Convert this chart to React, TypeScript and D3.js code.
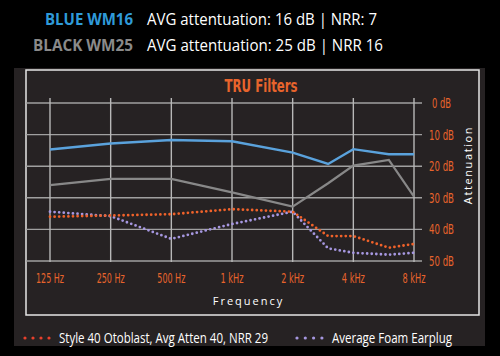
import React from "react";
import * as d3 from "d3";

const freqs = [125, 250, 500, 1000, 2000, 3000, 4000, 6000, 8000];
const blueWM16 = [14.7, 12.8, 11.7, 12.1, 15.7, 19.3, 14.6, 16.2, 16.2];
const blackWM25 = [26, 24, 24, 28.3, 32.8, 25.4, 19.8, 18, 29.6];
const otoblast = [36, 35.6, 35.2, 33.6, 34.4, 42.1, 42.1, 45.8, 44.6];
const foam = [34.4, 35.8, 43, 38.3, 34.4, 46, 47.4, 48, 47.4];

const xTicks = [125, 250, 500, 1000, 2000, 4000, 8000];
const xTickLabels = ["125 Hz", "250 Hz", "500 Hz", "1 kHz", "2 kHz", "4 kHz", "8 kHz"];
const yTicks = [0, 10, 20, 30, 40, 50];
const yTickLabels = ["0 dB", "10 dB", "20 dB", "30 dB", "40 dB", "50 dB"];

const COND = "'Liberation Sans Narrow', 'DejaVu Sans Condensed', 'Roboto', sans-serif";
const SANS = "'Open Sans', 'Noto Sans', 'Lato', sans-serif";
const ORANGE = "#e8642c";

export default function App() {
  const x = d3.scaleLog().base(2).domain([125, 8000]).range([50, 414]);
  const y = d3.scaleLinear().domain([0, 50]).range([103, 261]);
  const line = d3
    .line<number>()
    .x((_, i) => x(freqs[i]))
    .y((d) => y(d));

  return (
    <svg
      width={500}
      height={356}
      style={{ position: "absolute", left: 0, top: 0, background: "#000" }}
    >
      <rect x={0} y={0} width={500} height={356} fill="#000" />
      {/* header */}
      <text x={133} y={25} textAnchor="end" fill="#2f9ad9" fontFamily={SANS} fontWeight={700} fontSize={16.5} textLength={88} lengthAdjust="spacingAndGlyphs">BLUE WM16</text>
      <text x={147} y={25} fill="#fff" fontFamily={SANS} fontSize={16.5} textLength={230} lengthAdjust="spacingAndGlyphs">AVG attentuation: 16 dB | NRR: 7</text>
      <text x={133} y={51} textAnchor="end" fill="#8a8a8a" fontFamily={SANS} fontWeight={700} fontSize={16.5} textLength={100} lengthAdjust="spacingAndGlyphs">BLACK WM25</text>
      <text x={147} y={51} fill="#fff" fontFamily={SANS} fontSize={16.5} textLength={236} lengthAdjust="spacingAndGlyphs">AVG attentuation: 25 dB | NRR 16</text>

      {/* panel */}
      <rect x={14} y={68} width={471} height={278} fill="#262223" />
      <rect x={26} y={70} width={453} height={245} fill="#262223" stroke="#e6e6e6" strokeWidth={1.5} />

      {/* title */}
      <text x={261} y={92} textAnchor="middle" fill={ORANGE} fontFamily={COND} fontWeight={700} fontSize={18} textLength={73} lengthAdjust="spacingAndGlyphs">TRU Filters</text>

      {/* grid */}
      {yTicks.map((t) => (
        <line key={"h" + t} x1={26} x2={422} y1={y(t)} y2={y(t)} stroke="#a0a0a0" strokeWidth={1.4} />
      ))}
      {xTicks.map((t) => (
        <line key={"v" + t} x1={x(t)} x2={x(t)} y1={98} y2={262} stroke="#b8b8b8" strokeWidth={1.4} />
      ))}

      {/* series */}
      <path d={line(blackWM25) ?? ""} fill="none" stroke="#888" strokeWidth={2.2} />
      <path d={line(blueWM16) ?? ""} fill="none" stroke="#5aa2dc" strokeWidth={2.4} />
      <path d={line(foam) ?? ""} fill="none" stroke="#a697e0" strokeWidth={2.8} strokeDasharray="0 4.6" strokeLinecap="round" />
      <path d={line(otoblast) ?? ""} fill="none" stroke="#f0622a" strokeWidth={2.8} strokeDasharray="0 4.6" strokeLinecap="round" />

      {/* y labels */}
      {yTicks.map((t, i) => (
        <text key={"yl" + t} x={429 + (t === 0 ? 3 : 0)} y={y(t) + 5} fill={ORANGE} fontFamily={COND} fontSize={14} textLength={t === 0 ? 19 : 25} lengthAdjust="spacingAndGlyphs">{yTickLabels[i]}</text>
      ))}
      <text transform={`translate(472,165) rotate(-90)`} textAnchor="middle" fill="#fff" fontFamily={SANS} fontSize={11} letterSpacing={1.6}>Attenuation</text>

      {/* x labels */}
      {xTicks.map((t, i) => (
        <text key={"xl" + t} x={x(t)} y={283} textAnchor="middle" fill={ORANGE} fontFamily={COND} fontSize={14} textLength={t < 1000 ? 28 : 23} lengthAdjust="spacingAndGlyphs">{xTickLabels[i]}</text>
      ))}
      <text x={248.5} y={305} textAnchor="middle" fill="#fff" fontFamily={SANS} fontSize={11} letterSpacing={2}>Frequency</text>

      {/* legend */}
      {[0, 1, 2, 3].map((k) => (
        <circle key={"lr" + k} cx={25 + k * 8} cy={338} r={1.6} fill="#e8402c" />
      ))}
      <text x={59} y={343} fill="#fff" fontFamily={SANS} fontSize={14} textLength={209} lengthAdjust="spacingAndGlyphs">Style 40 Otoblast, Avg Atten 40, NRR 29</text>
      {[0, 1, 2, 3].map((k) => (
        <circle key={"lp" + k} cx={297 + k * 8.3} cy={338} r={1.6} fill="#a697e0" />
      ))}
      <text x={332} y={343} fill="#fff" fontFamily={SANS} fontSize={14} textLength={120} lengthAdjust="spacingAndGlyphs">Average Foam Earplug</text>
    </svg>
  );
}
